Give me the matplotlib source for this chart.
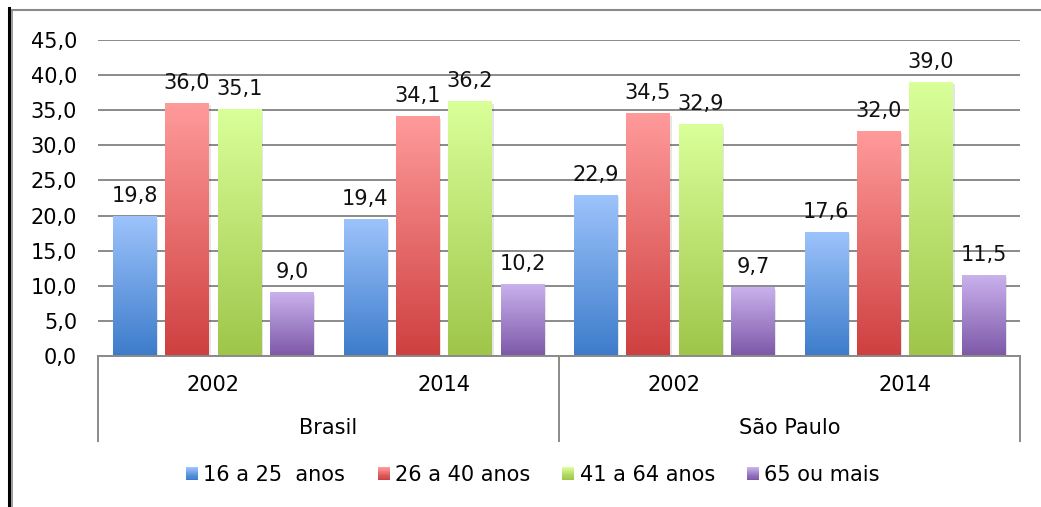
import numpy as np
import matplotlib
matplotlib.use("Agg")
import matplotlib.pyplot as plt
import matplotlib.transforms as mtransforms
from matplotlib.colors import to_rgb
from matplotlib.patches import Patch, Rectangle
from matplotlib.legend_handler import HandlerBase
from matplotlib.lines import Line2D

# data
years = ["2002", "2014", "2002", "2014"]
regions = ["Brasil", "São Paulo"]
series_names = ["16 a 25  anos", "26 a 40 anos", "41 a 64 anos", "65 ou mais"]
s16_25 = [19.8, 19.4, 22.9, 17.6]
s26_40 = [36.0, 34.1, 34.5, 32.0]
s41_64 = [35.1, 36.2, 32.9, 39.0]
s65 = [9.0, 10.2, 9.7, 11.5]
values = [s16_25, s26_40, s41_64, s65]

# gradient colours (top, bottom) for each series
grads = [("#9cc3fb", "#3d7ccb"),
         ("#ff9a9a", "#cf4040"),
         ("#d9ff99", "#9fc64a"),
         ("#c9b1ec", "#7d58a8")]

plt.rcParams['font.family'] = ['DejaVu Sans']
FS = 15

fig = plt.figure(figsize=(10.41, 5.07), dpi=100)
W, H = 1041, 507
ax = fig.add_axes([98 / W, 1 - 356 / H, (1020 - 98) / W, (356 - 40) / H])


def grad_img(top, bottom, n=64):
    t = np.linspace(0, 1, n)[:, None]
    c0 = np.array(to_rgb(top))
    c1 = np.array(to_rgb(bottom))
    return (c0 * (1 - t) + c1 * t)[:, None, :]


x = np.arange(len(years))
step = 0.2275
bw = 0.187
shadow = mtransforms.offset_copy(ax.transData, fig=fig, x=2, y=-2, units='dots')
for i, (vals, (top, bot)) in enumerate(zip(values, grads)):
    bars = ax.bar(x + (i - 1.5) * step, vals, bw, color='none', zorder=3)
    for r, v in zip(bars, vals):
        x0, w, h = r.get_x(), r.get_width(), r.get_height()
        ax.add_patch(Rectangle((x0, 0), w, h, facecolor='#000000', alpha=0.10,
                               edgecolor='none', transform=shadow, zorder=2.5))
        ax.imshow(grad_img(top, bot), extent=[x0, x0 + w, 0, h],
                  aspect='auto', zorder=3, interpolation='bilinear')
        ax.annotate(f"{v:.1f}".replace('.', ','), (x0 + w / 2, h),
                    xytext=(0, 10.5), textcoords='offset points',
                    ha='center', va='baseline', fontsize=FS, color='#111111')

ax.set_xlim(-0.5, 3.5)
ax.set_ylim(0, 45)
ax.set_yticks(np.arange(0, 46, 5))
ax.set_yticklabels([f"{t:.1f}".replace('.', ',') for t in np.arange(0, 46, 5)],
                   fontsize=FS)
ax.tick_params(axis='y', length=0, pad=15)
ax.set_xticks([])
ax.yaxis.grid(True, color='#8a8a8a', linewidth=1.4)
ax.set_axisbelow(True)
for s in ['left', 'right', 'top']:
    ax.spines[s].set_visible(False)
ax.spines['bottom'].set_color('#8a8a8a')
ax.spines['bottom'].set_linewidth(1.4)
ax.spines['bottom'].set_zorder(4)

# multi-level category axis
tr = mtransforms.blended_transform_factory(ax.transData, ax.transAxes)
for xs in [-0.5, 1.5, 3.5]:
    ax.add_line(Line2D([xs, xs], [0, -0.268], transform=tr, color='#8a8a8a',
                       linewidth=1.4, clip_on=False))
for xi, yr in zip(x, years):
    ax.text(xi, -0.092, yr, transform=tr, ha='center', va='center', fontsize=FS)
for j, reg in enumerate(regions):
    ax.text(2 * j + 0.5, -0.228, reg, transform=tr, ha='center', va='center',
            fontsize=FS)


# legend with gradient squares
class GradHandler(HandlerBase):
    def __init__(self, top, bottom):
        super().__init__()
        self.top, self.bottom = top, bottom

    def create_artists(self, legend, orig_handle, xdescent, ydescent,
                       width, height, fontsize, trans):
        n = 12
        cols = grad_img(self.top, self.bottom, n)[:, 0, :]
        arts = []
        for k in range(n):
            yk = -ydescent + height * (1 - (k + 1) / n)
            arts.append(Rectangle((-xdescent, yk), width, height / n + 0.3,
                                  facecolor=cols[k], edgecolor='none',
                                  transform=trans))
        return arts


handles = [Patch() for _ in series_names]
hmap = {h: GradHandler(t, b) for h, (t, b) in zip(handles, grads)}
fig.legend(handles, series_names, handler_map=hmap, loc='center',
           bbox_to_anchor=(533 / W, 1 - 475 / H), ncol=4, frameon=False,
           fontsize=FS, handlelength=0.58, handleheight=0.58,
           handletextpad=0.25, columnspacing=1.55)

# chart border
fig.add_artist(Line2D([8.5 / W, 8.5 / W], [0, 1 - 8 / H], color='black',
                      linewidth=2.2, transform=fig.transFigure))
fig.add_artist(Line2D([12 / W, 12 / W], [0, 1 - 10 / H], color='#8a8a8a',
                      linewidth=1.2, transform=fig.transFigure))
fig.add_artist(Line2D([12 / W, 1], [1 - 10 / H, 1 - 10 / H], color='#8a8a8a',
                      linewidth=1.5, transform=fig.transFigure))

fig.savefig("out.png", dpi=100)
